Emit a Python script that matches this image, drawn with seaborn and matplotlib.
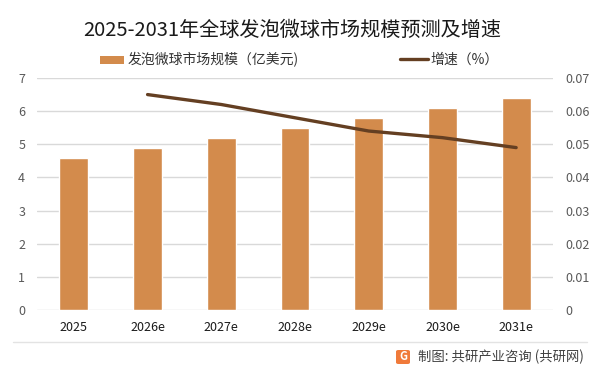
import matplotlib
matplotlib.use("Agg")
import matplotlib.pyplot as plt
import seaborn as sns
import pandas as pd
from matplotlib.ticker import MultipleLocator, FuncFormatter
from matplotlib.patches import Patch, FancyBboxPatch
from matplotlib.lines import Line2D

# ---- data ----
years = ["2025", "2026e", "2027e", "2028e", "2029e", "2030e", "2031e"]
market_size = [4.6, 4.9, 5.2, 5.5, 5.8, 6.1, 6.4]
growth_years = ["2026e", "2027e", "2028e", "2029e", "2030e", "2031e"]
growth_rate = [0.065, 0.062, 0.058, 0.054, 0.052, 0.049]

title = "2025-2031年全球发泡微球市场规模预测及增速"
bar_label = "发泡微球市场规模（亿美元)"
line_label = "增速（%）"
source = "制图: 共研产业咨询 (共研网)"

sns.set_theme(style="white")
plt.rcParams['font.family'] = ['Noto Sans CJK SC', 'DejaVu Sans']

bar_color = "#D38B4C"
line_color = "#643F22"

fig = plt.figure(figsize=(6.01, 3.74), dpi=100)
ax = fig.add_axes([37/601, 1-310/374, (553-37)/601, (310-78)/374])

df_bar = pd.DataFrame({"year": years, "size": market_size})
sns.barplot(data=df_bar, x="year", y="size", ax=ax, color=bar_color,
            width=0.39, saturation=1, order=years)

ax.set_ylim(0, 7)
ax.yaxis.set_major_locator(MultipleLocator(1))
ax.set_xlim(-0.5, len(years) - 0.5)
ax.set_xlabel("")
ax.set_ylabel("")
ax.grid(axis="y", color="#D9D9D9", linewidth=1)
ax.set_axisbelow(True)
for s in ax.spines.values():
    s.set_visible(False)
ax.tick_params(axis="both", length=0)
ax.tick_params(axis="y", labelsize=9, labelcolor="#595959", pad=13.5)
ax.tick_params(axis="x", labelsize=9, labelcolor="#1a1a1a", pad=8)
for lbl in ax.get_yticklabels():
    lbl.set_horizontalalignment("left")

ax2 = ax.twinx()
pos = [years.index(y) for y in growth_years]
df_line = pd.DataFrame({"pos": pos, "rate": growth_rate})
sns.lineplot(data=df_line, x="pos", y="rate", ax=ax2, color=line_color,
             linewidth=2.4)
ax2.set_ylim(0, 0.07)
ax2.yaxis.set_major_locator(MultipleLocator(0.01))
ax2.yaxis.set_major_formatter(FuncFormatter(lambda v, p: "{:g}".format(round(v, 4))))
ax2.set_ylabel("")
ax2.grid(False)
for s in ax2.spines.values():
    s.set_visible(False)
ax2.tick_params(axis="y", length=0, labelsize=9, labelcolor="#595959", pad=9)
ax.set_xlim(-0.5, len(years) - 0.5)

# title
fig.text(0.5 - 8/601, 1 - 30/374, title, ha="center", va="center",
         fontsize=14.5, color="#1a1a1a")

# legends
h1 = Patch(facecolor=bar_color, edgecolor="none")
leg1 = fig.legend([h1], [bar_label], loc="center left",
                  bbox_to_anchor=(100/601, 1 - 60/374), frameon=False,
                  fontsize=10, handlelength=1.7, handleheight=0.5,
                  handletextpad=0.3, borderpad=0, borderaxespad=0)
for t in leg1.get_texts():
    t.set_color("#333333")
h2 = Line2D([0], [0], color=line_color, linewidth=2.4)
leg2 = fig.legend([h2], [line_label], loc="center left",
                  bbox_to_anchor=(400/601, 1 - 60/374), frameon=False,
                  fontsize=10, handlelength=2.0, handletextpad=0.2,
                  borderpad=0, borderaxespad=0)
for t in leg2.get_texts():
    t.set_color("#333333")

# bottom separator & source
fig.add_artist(Line2D([13/601, 587/601], [1 - 342/374, 1 - 342/374],
                      color="#E3E3E3", linewidth=1))
logo = FancyBboxPatch((396/601, 1 - 364/374), 14/601, 14/374,
                      boxstyle="round,pad=0,rounding_size=0.004",
                      transform=fig.transFigure, facecolor="#F07A3A",
                      edgecolor="none")
fig.add_artist(logo)
fig.text(403/601, 1 - 357/374, "G", ha="center", va="center",
         fontsize=8, color="white", fontweight="bold")
fig.text(418/601, 1 - 357/374, source, ha="left", va="center",
         fontsize=9.6, color="#404040")

fig.savefig("out.png", dpi=100)
